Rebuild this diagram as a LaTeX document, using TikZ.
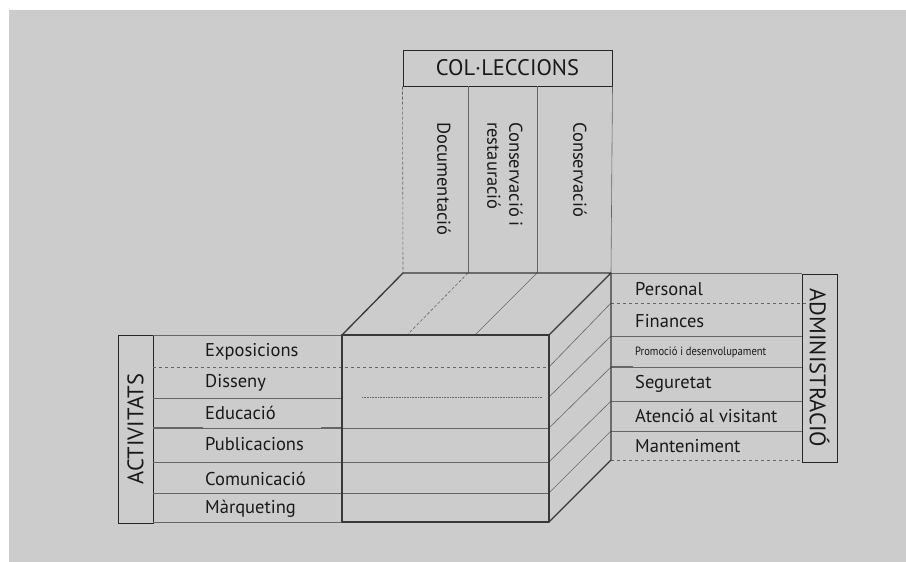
\documentclass[tikz,border=0pt]{standalone}
\usepackage{fontspec}
\setmainfont{PT Sans}
\usetikzlibrary{calc}

\begin{document}
\begin{tikzpicture}[x=1pt,y=-1pt,
    edge/.style={draw=black!78, line width=1.3pt, line join=round},
    rule/.style={draw=black!60, line width=0.6pt},
    lbl/.style={anchor=west, inner sep=0pt, font=\fontsize{18.5}{19}\selectfont, text=black!90},
    vlbl/.style={lbl, rotate=-90},
    head/.style={draw=black!85, line width=1pt, inner sep=0pt, font=\fontsize{22.5}{23}\selectfont, text=black!90}]
    \fill[white] (0,0) rectangle (906,562);
    \fill[black!20] (9,10) rectangle (906,562);
    \useasboundingbox (0,0) rectangle (906,562);
    % cube corners
    \coordinate (ftl) at (342,335);
    \coordinate (ftr) at (549,335);
    \coordinate (fbl) at (342,522);
    \coordinate (fbr) at (549,522);
    \coordinate (btl) at (403,273);
    \coordinate (btr) at (611,273);
    \coordinate (bbr) at (611,460);
    % group boxes
    \node[head, minimum width=209pt, minimum height=36pt] (col) at (507.5,68) {COL·LECCIONS};
    \node[head, minimum width=188pt, minimum height=35pt, rotate=90] (act) at (135.5,429) {ACTIVITATS};
    \node[head, minimum width=188pt, minimum height=35pt, rotate=-90] (adm) at (819.5,368) {ADMINISTRACIÓ};
    % top columns
    \draw[rule, densely dashed] (col.south west) -- (btl);
    \draw[rule] (468,86) -- (468,273);
    \draw[rule] (537,86) -- (537,273);
    \draw[rule] (col.south east) -- (btr);
    \draw[rule, densely dashed] (468,273) -- (407,335);
    \draw[rule] (537,273) -- (475,335);
    \node[vlbl] (doc) at (444,122) {Documentació};
    \node[vlbl, align=left, font=\fontsize{18.5}{22}\selectfont] (cons) at (505,122) {Conservació i\\restauració};
    \node[vlbl] (conv) at (580,122) {Conservació};
    % left rows
    \draw[rule] (153,335) -- (ftl);
    \draw[rule, dashed] (153,367) -- (549,367);
    \draw[rule] (153,398) -- (342,398);
    \draw[rule, densely dotted, line width=0.9pt] (362,397) -- (542,397);
    \draw[rule] (153,428) -- (549,428);
    \draw[rule, line width=1.2pt] (153,428) -- (203,428);
    \draw[rule, line width=1.2pt] (321,428) -- (342,428);
    \draw[rule] (153,462) -- (549,462);
    \draw[rule] (153,493) -- (549,493);
    \draw[rule] (153,522) -- (342,522);
    \node[lbl] (expo) at (205,352) {Exposicions};
    \node[lbl] (dis) at (205,383) {Disseny};
    \node[lbl] (edu) at (205,413) {Educació};
    \node[lbl] (pub) at (205,444) {Publicacions};
    \node[lbl] (com) at (205,479) {Comunicació};
    \node[lbl] (mar) at (205,509) {Màrqueting};
    % right rows
    \draw[rule] (btr) -- (802,273);
    \draw[rule, dashed] (611,303) -- (806,303);
    \draw[rule] (611,336) -- (802,336);
    \draw[rule] (611,367) -- (802,367);
    \draw[rule, line width=1.2pt] (611,367) -- (633,367);
    \draw[rule] (611,401) -- (802,401);
    \draw[rule] (611,431) -- (802,431);
    \draw[rule, dashed] (bbr) -- (802,460);
    \foreach \ya/\yb in {367/303, 397/336, 428/367, 462/401, 493/431}
        \draw[rule] (549,\ya) -- (611,\yb);
    \node[lbl] (pers) at (635,289) {Personal};
    \node[lbl] (fin) at (635,321) {Finances};
    \node[lbl, font=\fontsize{12}{13}\selectfont\addfontfeature{FakeStretch=0.88}] (prom) at (635,352) {Promoció i desenvolupament};
    \node[lbl] (seg) at (635,384) {Seguretat};
    \node[lbl] (aten) at (635,416) {Atenció al visitant};
    \node[lbl] (mant) at (635,446) {Manteniment};
    % cube outline
    \draw[edge] (ftl) rectangle (fbr);
    \draw[edge] (ftl) -- (btl) -- (btr) -- (ftr);
    \draw[edge] (btr) -- (bbr) -- (fbr);
\end{tikzpicture}
\end{document}
